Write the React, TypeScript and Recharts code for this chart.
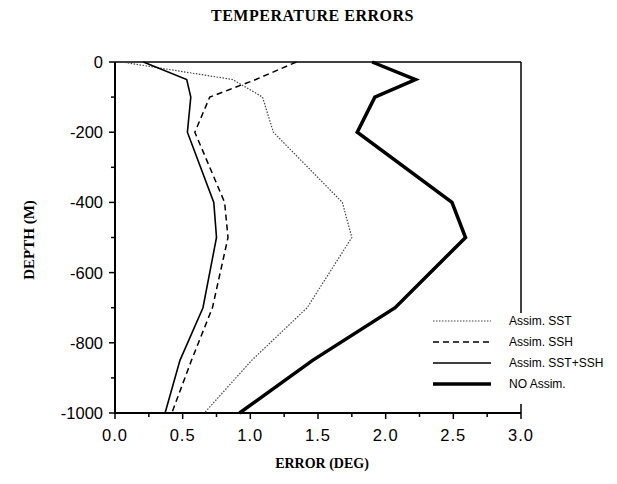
import React from "react";
import { LineChart, Line, XAxis, YAxis, ReferenceLine, Legend, Label } from "recharts";

// depth levels (m) and temperature error (deg) per experiment
const depths = [0, -50, -100, -200, -400, -500, -700, -850, -1000];
const assimSST = [0.05, 0.87, 1.09, 1.17, 1.68, 1.75, 1.42, 1.01, 0.66];
const assimSSH = [1.34, 1.04, 0.7, 0.59, 0.81, 0.835, 0.72, 0.565, 0.42];
const assimBoth = [0.21, 0.53, 0.56, 0.535, 0.73, 0.75, 0.65, 0.48, 0.37];
const noAssim = [1.9, 2.22, 1.92, 1.79, 2.49, 2.59, 2.07, 1.46, 0.92];

const seriesNames = ["Assim. SST", "Assim. SSH", "Assim. SST+SSH", "NO Assim."];

const xTicks = [0, 0.25, 0.5, 0.75, 1, 1.25, 1.5, 1.75, 2, 2.25, 2.5, 2.75, 3];
const yTicks = [0, -100, -200, -300, -400, -500, -600, -700, -800, -900, -1000];

const data = depths.map((d, i) => ({
  depth: d,
  sst: assimSST[i],
  ssh: assimSSH[i],
  both: assimBoth[i],
  none: noAssim[i],
}));

const lineStyles = [
  { key: "sst", stroke: "#444", width: 1.2, dash: "1.5 1.5" },
  { key: "ssh", stroke: "#000", width: 1.5, dash: "6 4" },
  { key: "both", stroke: "#000", width: 1.6, dash: undefined },
  { key: "none", stroke: "#000", width: 3.5, dash: undefined },
];

const sans = "'Liberation Sans', Arial, Helvetica, sans-serif";
const serif = "'Liberation Serif', 'Times New Roman', serif";

function XTick({ x, y, payload }: any) {
  const v = payload.value;
  const major = Math.abs(v * 2 - Math.round(v * 2)) < 1e-6;
  const top = v === 3 ? y - 9 : y;
  return (
    <g>
      <line x1={x} x2={x} y1={top} y2={y + (major ? 6 : 4)} stroke="#000" strokeWidth={1.5} />
      {major && (
        <text x={x} y={y + 28} textAnchor="middle" fontSize={16.5} fontFamily={sans} fill="#000" letterSpacing={1}>
          {v.toFixed(1)}
        </text>
      )}
    </g>
  );
}

function YTick({ x, y, payload }: any) {
  const v = payload.value;
  const major = v % 200 === 0;
  return (
    <g>
      <line x1={x} x2={x - (major ? 6 : 4)} y1={y} y2={y} stroke="#000" strokeWidth={1.5} />
      {major && (
        <text x={x - 12} y={y} dy="0.36em" textAnchor="end" fontSize={16.5} fontFamily={sans} fill="#000">
          {String(v)}
        </text>
      )}
    </g>
  );
}

function LegendBox() {
  return (
    <div style={{ fontFamily: sans, fontSize: 12 }}>
      {seriesNames.map((name, i) => {
        const s = lineStyles[i];
        return (
          <div key={name} style={{ display: "flex", alignItems: "center", height: 21 }}>
            <svg width={58} height={8} style={{ marginRight: 18 }}>
              <line x1={0} x2={58} y1={4} y2={4} stroke={s.stroke} strokeWidth={s.width} strokeDasharray={s.dash} />
            </svg>
            <span>{name}</span>
          </div>
        );
      })}
    </div>
  );
}

export default function App() {
  return (
    <div style={{ position: "absolute", left: 0, top: 0, width: 617, height: 484, background: "#fff" }}>
      <div
        style={{
          position: "absolute",
          top: 7,
          width: 617,
          textAlign: "center",
          fontFamily: serif,
          fontWeight: "bold",
          fontSize: 16,
          letterSpacing: 0.5,
          paddingLeft: 8,
          boxSizing: "border-box",
        }}
      >
        TEMPERATURE ERRORS
      </div>
      <LineChart
        layout="vertical"
        width={617}
        height={484}
        data={data}
        margin={{ top: 62, right: 96, bottom: 0, left: 0 }}
      >
        <XAxis
          type="number"
          domain={[0, 3]}
          ticks={xTicks}
          interval={0}
          height={71}
          tickSize={0}
          tickMargin={0}
          tickLine={false}
          tick={<XTick />}
          axisLine={{ stroke: "#000", strokeWidth: 2 }}
        >
          <Label
            content={() => (
              <text x={322} y={468} textAnchor="middle" fontFamily={serif} fontWeight="bold" fontSize={14}>
                ERROR (DEG)
              </text>
            )}
          />
        </XAxis>
        <YAxis
          type="number"
          dataKey="depth"
          domain={[-1000, 0]}
          reversed
          ticks={yTicks}
          interval={0}
          width={115}
          tickSize={0}
          tickMargin={0}
          tickLine={false}
          tick={<YTick />}
          axisLine={{ stroke: "#000", strokeWidth: 2 }}
        >
          <Label
            content={() => (
              <text
                transform="translate(34,240) rotate(-90)"
                textAnchor="middle"
                fontFamily={serif}
                fontWeight="bold"
                fontSize={15}
              >
                DEPTH (M)
              </text>
            )}
          />
        </YAxis>
        <ReferenceLine y={0} stroke="#000" strokeWidth={1.5} />
        <ReferenceLine
          segment={[
            { x: 3, y: 0 },
            { x: 3, y: -715 },
          ]}
          stroke="#000"
          strokeWidth={1.5}
        />
        {lineStyles.map((s, i) => (
          <Line
            key={s.key}
            dataKey={s.key}
            name={seriesNames[i]}
            type="linear"
            stroke={s.stroke}
            strokeWidth={s.width}
            strokeDasharray={s.dash}
            dot={false}
            isAnimationActive={false}
          />
        ))}
        <Legend
          layout="vertical"
          align="center"
          verticalAlign="middle"
          content={() => <LegendBox />}
          wrapperStyle={{ left: 433, top: 310, width: 180 }}
        />
      </LineChart>
    </div>
  );
}
